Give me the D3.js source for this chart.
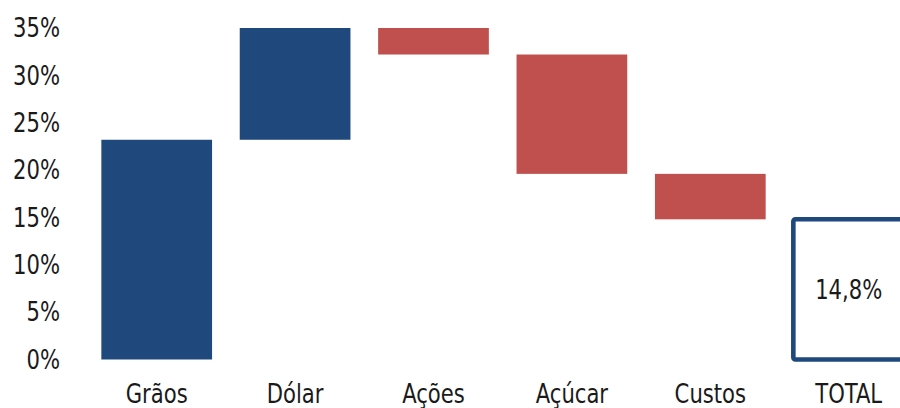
<!DOCTYPE html>
<html>
<head>
<meta charset="utf-8">
<script src="https://cdn.jsdelivr.net/npm/d3@7"></script>
<style>
  html, body { margin: 0; padding: 0; background: #fff; }
  svg text { font-family: "DejaVu Sans Condensed", "Liberation Sans Narrow", "Open Sans", sans-serif; fill: #1a1a1a; }
</style>
</head>
<body>
<div id="chart"></div>
<script>
// waterfall data (percentage points)
const categories = ['Grãos', 'Dólar', 'Ações', 'Açúcar', 'Custos', 'TOTAL'];
const deltas = [23.2, 11.8, -2.8, -12.6, -4.8];
const totalValue = 14.8;
const totalLabel = '14,8%';
const yTicks = [0, 5, 10, 15, 20, 25, 30, 35];

const width = 900;
const height = 408;
const blue = '#1F497D';
const red = '#C0504D';
const fontSize = '27px';
const squeeze = 'scale(0.87,1)'; // narrow the glyphs a bit

const svg = d3.select('#chart')
  .append('svg')
  .attr('width', width)
  .attr('height', height);

const x = d3.scaleBand()
  .domain(categories)
  .range([87.5, 917.9])
  .paddingInner(0.2)
  .paddingOuter(0.1);

const y = d3.scaleLinear()
  .domain([0, 35])
  .range([359.5, 28]);

// build running start/end for each step
let running = 0;
const steps = deltas.map((d, i) => {
  const start = running;
  running += d;
  return { name: categories[i], start: start, end: running, delta: d };
});

svg.selectAll('rect.step')
  .data(steps)
  .enter()
  .append('rect')
  .attr('class', 'step')
  .attr('x', d => x(d.name))
  .attr('width', x.bandwidth())
  .attr('y', d => y(Math.max(d.start, d.end)))
  .attr('height', d => Math.abs(y(d.start) - y(d.end)))
  .style('fill', d => d.delta >= 0 ? blue : red);

// total as outlined box
svg.append('rect')
  .attr('x', x('TOTAL'))
  .attr('width', x.bandwidth())
  .attr('y', y(totalValue))
  .attr('height', y(0) - y(totalValue))
  .attr('rx', 2)
  .style('fill', 'none')
  .style('stroke', blue)
  .style('stroke-width', 4.6)
  .style('stroke-linejoin', 'round');

svg.append('g')
  .attr('transform', `translate(${x('TOTAL') + x.bandwidth() / 2}, ${(y(0) + y(totalValue)) / 2})`)
  .append('text')
  .attr('dy', '0.36em')
  .attr('text-anchor', 'middle')
  .attr('transform', squeeze)
  .style('font-size', fontSize)
  .text(totalLabel);

// y axis labels, no line
const yAxis = svg.append('g')
  .attr('transform', 'translate(60, 0)')
  .call(d3.axisLeft(y).tickValues(yTicks).tickSize(0).tickPadding(0).tickFormat(d => d + '%'));
yAxis.select('.domain').remove();
yAxis.selectAll('text').style('font-size', fontSize).attr('transform', squeeze);

// x axis labels
const xAxis = svg.append('g')
  .attr('transform', 'translate(0, 384)')
  .call(d3.axisBottom(x).tickSize(0).tickPadding(0));
xAxis.select('.domain').remove();
xAxis.selectAll('text').style('font-size', fontSize).attr('transform', squeeze);
</script>
</body>
</html>
